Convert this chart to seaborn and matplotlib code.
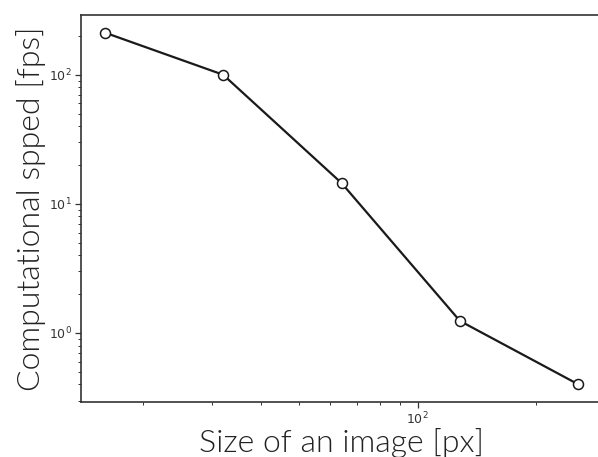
import matplotlib
matplotlib.use("Agg")
import matplotlib.pyplot as plt
import matplotlib.ticker as mticker
import seaborn as sns
import pandas as pd

# Benchmark results: processing speed versus image size
image_size_px = [16, 32, 64, 128, 256]
speed_fps = [212, 100, 14.5, 1.24, 0.40]

df = pd.DataFrame({"size": image_size_px, "fps": speed_fps})

sns.set_theme(style="ticks")
plt.rcParams["font.family"] = ["DejaVu Sans"]

fig = plt.figure(figsize=(5.98, 4.57), dpi=100)
ax = fig.add_axes([0.1355, 0.1204, 0.8712, 0.8468])

sns.lineplot(
    data=df, x="size", y="fps", ax=ax,
    color="#1a1a1a", linewidth=1.6,
    marker="o", markersize=7.2,
    markerfacecolor="white", markeredgecolor="#1a1a1a", markeredgewidth=1.1,
)

ax.set_xscale("log")
ax.set_yscale("log")
ax.xaxis.set_minor_formatter(mticker.NullFormatter())
ax.yaxis.set_minor_formatter(mticker.NullFormatter())

for side in ["left", "bottom", "top", "right"]:
    ax.spines[side].set_visible(True)
    ax.spines[side].set_color("#333333")
    ax.spines[side].set_linewidth(1.2)

ax.tick_params(axis="both", which="major", length=4, width=0.9,
               color="#333333", labelsize=9, labelcolor="#333333", pad=2.5)
ax.tick_params(axis="both", which="minor", length=2.5, width=0.7,
               color="#333333")

label_font = dict(family=["Lato", "DejaVu Sans"], weight=300,
                  size=23, color="#222222")
ax.set_xlabel("Size of an image [px]", labelpad=0, **label_font)
ax.set_ylabel("Computational spped [fps]", labelpad=2, **label_font)

fig.savefig("out.png", dpi=100)
